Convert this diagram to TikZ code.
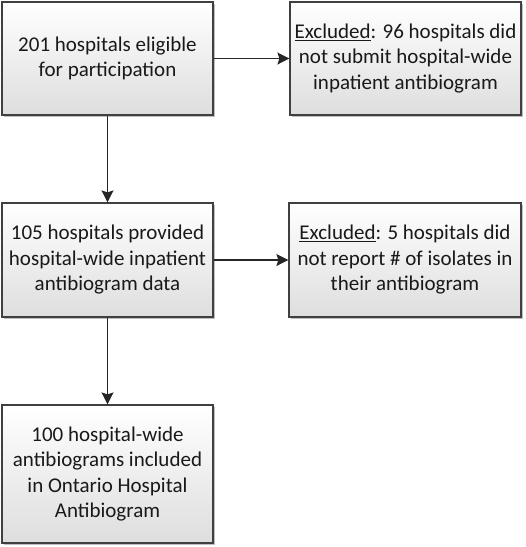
\documentclass[tikz,border=0pt]{standalone}
\usepackage{fontspec}
\setmainfont{Carlito}
\usetikzlibrary{shadows,arrows.meta}
\tikzset{
  flowbox/.style={draw=black!75, line width=1.2pt, top color=white, bottom color=black!13,
    drop shadow={shadow xshift=2pt, shadow yshift=-2pt, fill=black, opacity=0.25},
    align=center, font=\fontsize{21}{25.5}\selectfont, text=black!90, inner sep=0pt},
  flowarrow/.style={draw=black!85, line width=1.2pt, -{Stealth[length=12pt, width=12pt, inset=2pt]}}
}
\begin{document}
\begin{tikzpicture}[x=1pt,y=-1pt]
  \useasboundingbox (0,0) rectangle (526,547);
  \node [flowbox, minimum width=211pt, minimum height=113pt] (eligible) at (107.5,58.5) {201 hospitals eligible\\for participation};
  \node [flowbox, minimum width=231pt, minimum height=113pt] (nosubmit) at (405.5,58.5) {\underline{Excluded}: 96 hospitals did\\not submit hospital-wide\\inpatient antibiogram};
  \node [flowbox, minimum width=211pt, minimum height=114pt] (provided) at (107.5,260) {105 hospitals provided\\hospital-wide inpatient\\antibiogram data};
  \node [flowbox, minimum width=232pt, minimum height=114pt] (noreport) at (405,260) {\underline{Excluded}: 5 hospitals did\\not report \# of isolates in\\their antibiogram};
  \node [flowbox, minimum width=211pt, minimum height=138pt] (included) at (107.5,474) {100 hospital-wide\\antibiograms included\\in Ontario Hospital\\Antibiogram};
  \draw [flowarrow] (eligible) -- (nosubmit);
  \draw [flowarrow] (eligible) -- (provided);
  \draw [flowarrow] (provided) -- (noreport);
  \draw [flowarrow] (provided) -- (included);
\end{tikzpicture}
\end{document}
